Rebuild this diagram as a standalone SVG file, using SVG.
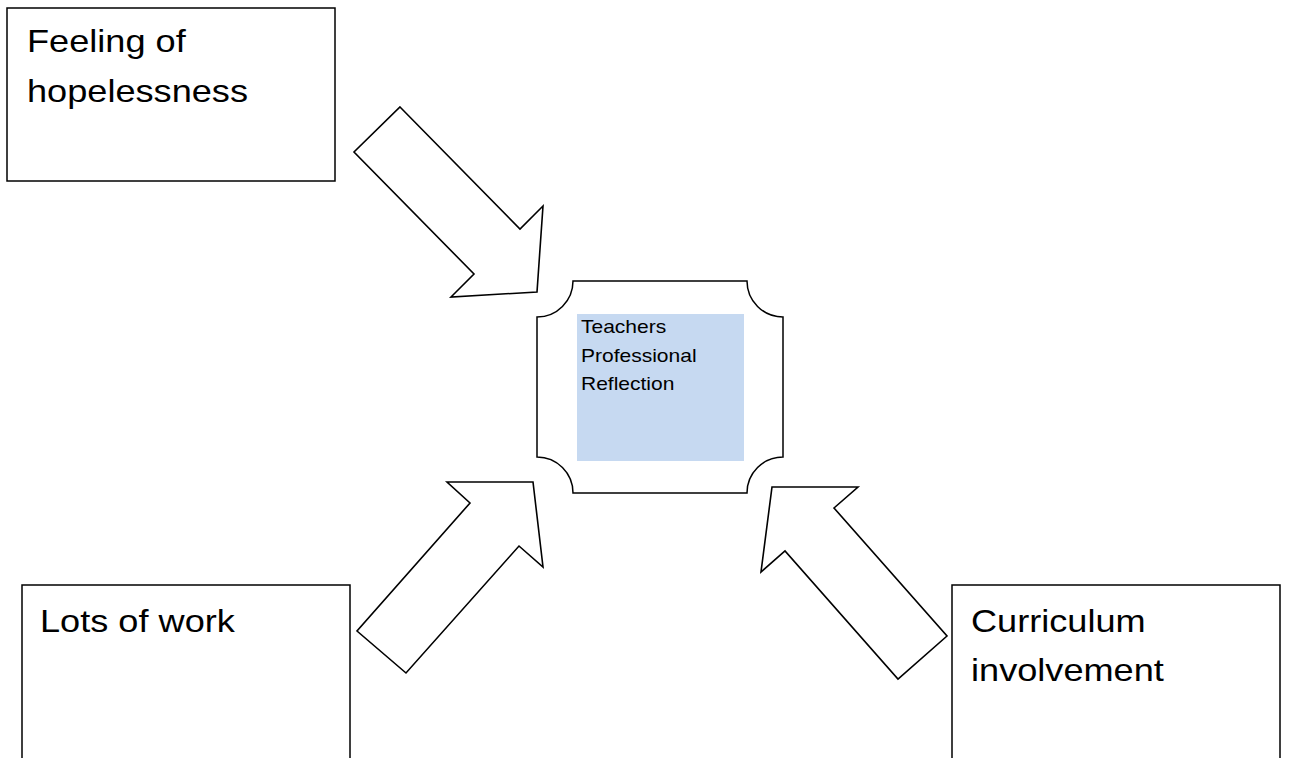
<svg xmlns="http://www.w3.org/2000/svg" width="1289" height="758" viewBox="0 0 1289 758">
<style>
.box{fill:#ffffff;stroke:#000000;stroke-width:1.5}
.arrow{fill:#ffffff;stroke:#000000;stroke-width:1.6;stroke-linejoin:miter}
.big{font-family:"Liberation Sans",Arial,sans-serif;font-size:32px;fill:#000000}
.small{font-family:"Liberation Sans",Arial,sans-serif;font-size:18.6px;fill:#000000}
</style>
<rect x="0" y="0" width="1289" height="758" fill="#ffffff"/>
<g id="node-hopelessness">
<rect class="box" x="7" y="8" width="328" height="173"/>
<text class="big" transform="translate(27,52) scale(1.13,1)">Feeling of</text>
<text class="big" transform="translate(27,102) scale(1.13,1)">hopelessness</text>
</g>
<g id="node-work">
<rect class="box" x="22" y="585" width="328" height="200"/>
<text class="big" transform="translate(40,632) scale(1.13,1)">Lots of work</text>
</g>
<g id="node-curriculum">
<rect class="box" x="952" y="585" width="328" height="200"/>
<text class="big" transform="translate(971,632) scale(1.13,1)">Curriculum</text>
<text class="big" transform="translate(971,681) scale(1.13,1)">involvement</text>
</g>
<g id="node-reflection">
<path class="box" d="M573 281 L747 281 A36 36 0 0 0 783 317 L783 457 A36 36 0 0 0 747 493 L573 493 A36 36 0 0 0 537 457 L537 317 A36 36 0 0 0 573 281 Z" stroke-width="2"/>
<rect x="577" y="314" width="167" height="147" fill="#c6d9f1"/>
<text class="small" transform="translate(581,333) scale(1.13,1)">Teachers</text>
<text class="small" transform="translate(581,362) scale(1.13,1)">Professional</text>
<text class="small" transform="translate(581,390) scale(1.13,1)">Reflection</text>
</g>
<g id="connectors">
<polygon class="arrow" points="400,107 520,229 543,206 537,292 451,297 474,274 354,152"/>
<polygon class="arrow" points="406,673 357,631 470,503 447,482 533,482 543,567 519,546"/>
<polygon class="arrow" points="772,487 858,487 834,508 947,636 898,679 785,551 761,572"/>
</g>
</svg>
